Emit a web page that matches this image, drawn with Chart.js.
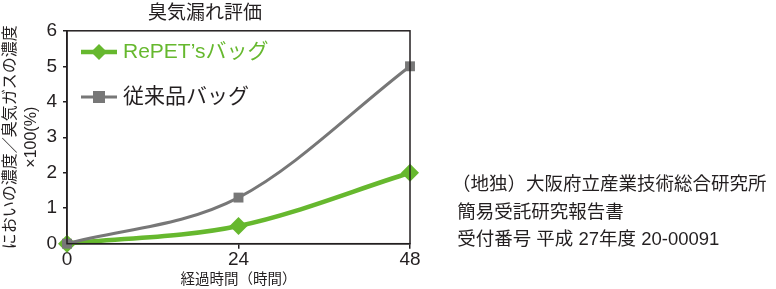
<!DOCTYPE html>
<html>
<head>
<meta charset="utf-8">
<script src="https://cdn.jsdelivr.net/npm/chart.js@4"></script>
<style>
  html, body { margin: 0; padding: 0; background: #fff; }
  #wrap { position: relative; width: 776px; height: 289px; }
</style>
</head>
<body>
<div id="wrap"><canvas id="odorChart" width="776" height="289"></canvas></div>
<script>
/* 臭気漏れ評価 – data */
const hours = [0, 24, 48];
const repetValues = [0, 0.5, 2];
const conventionalValues = [0, 1.3, 5];
const seriesLabels = ["RePET’sバッグ", "従来品バッグ"];
const xTicks = [0, 24, 48];
const yTicks = [0, 1, 2, 3, 4, 5, 6];
const noteLines = [
  "（地独）大阪府立産業技術総合研究所",
  " 簡易受託研究報告書",
  " 受付番号 平成 27年度 20-00091"
];

const FONT = '"Liberation Sans", "Noto Sans CJK JP", sans-serif';
const GREEN = "#66b82e";
const GRAY = "#777777";
const INK = "#231f20";

const toPoints = (vals) => vals.map((v, i) => ({ x: hours[i], y: v }));

/* box around plot area, legend inside plot, report note on the right */
const decorPlugin = {
  id: "decor",
  afterDraw(chart) {
    const { ctx, chartArea: a } = chart;
    ctx.save();
    ctx.strokeStyle = INK;
    ctx.lineWidth = 1.5;
    ctx.strokeRect(a.left, a.top, a.right - a.left, a.bottom - a.top);

    // legend, in the order of seriesLabels
    const rows = [52, 97];
    seriesLabels.forEach((label, i) => {
      const ds = chart.data.datasets.find(d => d.label === label);
      const y = rows[i];
      ctx.strokeStyle = ds.borderColor;
      ctx.lineWidth = ds.borderWidth;
      ctx.beginPath();
      ctx.moveTo(81, y);
      ctx.lineTo(117, y);
      ctx.stroke();
      ctx.fillStyle = ds.pointBackgroundColor;
      ctx.beginPath();
      if (ds.pointStyle === "rectRot") {
        ctx.moveTo(99, y - 8); ctx.lineTo(107, y); ctx.lineTo(99, y + 8); ctx.lineTo(91, y);
      } else {
        ctx.rect(93, y - 6, 12, 12);
      }
      ctx.closePath();
      ctx.fill();
      ctx.fillStyle = i === 0 ? GREEN : INK;
      ctx.font = "21px " + FONT;
      ctx.textBaseline = "middle";
      ctx.textAlign = "left";
      ctx.fillText(ds.label, 123, y);
    });

    // note text
    ctx.fillStyle = INK;
    ctx.font = "18.5px " + FONT;
    ctx.textBaseline = "middle";
    noteLines.forEach((t, i) => ctx.fillText(t, 452, 185 + i * 27.5));
    ctx.restore();
  }
};

new Chart(document.getElementById("odorChart"), {
  type: "line",
  data: {
    datasets: [
      {
        label: seriesLabels[1],
        data: toPoints(conventionalValues),
        borderColor: GRAY,
        backgroundColor: GRAY,
        pointBackgroundColor: GRAY,
        pointBorderWidth: 0,
        borderWidth: 3,
        pointStyle: "rect",
        pointRadius: 7,
        cubicInterpolationMode: "monotone",
        clip: false
      },
      {
        label: seriesLabels[0],
        data: toPoints(repetValues),
        borderColor: GREEN,
        backgroundColor: GREEN,
        pointBackgroundColor: GREEN,
        pointBorderWidth: 0,
        borderWidth: 4.5,
        pointStyle: "rectRot",
        pointRadius: 9,
        cubicInterpolationMode: "monotone",
        clip: false
      }
    ]
  },
  options: {
    responsive: false,
    animation: false,
    layout: { padding: { left: 0, right: 366, top: 0, bottom: 0 } },
    plugins: {
      legend: { display: false },
      tooltip: { enabled: false },
      title: {
        display: true,
        text: "臭気漏れ評価",
        color: INK,
        font: { family: FONT, size: 19, weight: "normal" },
        padding: { top: 2, bottom: 6 }
      }
    },
    scales: {
      x: {
        type: "linear",
        min: 0,
        max: 48,
        afterBuildTicks: (s) => { s.ticks = xTicks.map(v => ({ value: v })); },
        ticks: { color: INK, font: { family: FONT, size: 19 }, padding: 0, maxRotation: 0 },
        grid: { drawOnChartArea: false, drawTicks: true, tickLength: 5, color: INK, lineWidth: 1.5 },
        border: { color: INK, width: 1.5 },
        title: {
          display: true,
          text: "経過時間（時間）",
          color: INK,
          font: { family: FONT, size: 14.5, lineHeight: 1 },
          padding: { top: 1, bottom: 2 }
        }
      },
      y: {
        min: 0,
        max: 6,
        afterBuildTicks: (s) => { s.ticks = yTicks.map(v => ({ value: v })); },
        afterFit: (s) => { s.width = 67; },
        ticks: { color: INK, font: { family: FONT, size: 19 }, padding: 6 },
        grid: { drawOnChartArea: false, drawTicks: true, tickLength: 4, color: INK, lineWidth: 1.5 },
        border: { color: INK, width: 1.5 },
        title: {
          display: true,
          text: ["においの濃度／臭気ガスの濃度", "×100(%)"],
          color: INK,
          font: { family: FONT, size: 16, lineHeight: 1.3 },
          padding: { top: 0, bottom: 2 }
        }
      }
    }
  },
  plugins: [decorPlugin]
});
</script>
</body>
</html>
